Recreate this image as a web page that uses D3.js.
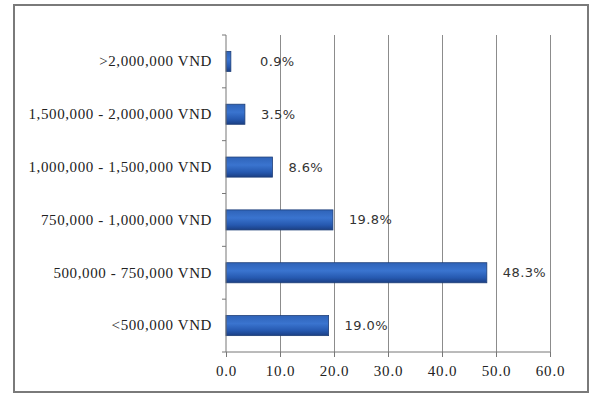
<!DOCTYPE html>
<html>
<head>
<meta charset="utf-8">
<script src="https://cdn.jsdelivr.net/npm/d3@7"></script>
<style>
  body { margin: 0; background: #fff; }
  .cat { font-family: "Liberation Serif", serif; font-size: 15px; letter-spacing: 0.6px; fill: #222; }
  .tick-x { font-family: "Liberation Serif", serif; font-size: 15px; letter-spacing: 0.8px; fill: #222; }
  .val { font-family: "DejaVu Sans", sans-serif; font-size: 13px; letter-spacing: 0.4px; fill: #333; }
</style>
</head>
<body>
<svg id="chart" width="591" height="396"></svg>
<script>
const categories = [">2,000,000 VND", "1,500,000 - 2,000,000 VND", "1,000,000 - 1,500,000 VND",
  "750,000 - 1,000,000 VND", "500,000 - 750,000 VND", "<500,000 VND"];
const values = [0.9, 3.5, 8.6, 19.8, 48.3, 19.0];
const ticks = [0, 10, 20, 30, 40, 50, 60];

const svg = d3.select("#chart");
const M = {left:226, right:550, top:35, bottom:352};

// frame
svg.append("rect").attr("x", 14).attr("y", 5).attr("width", 574).attr("height", 387)
  .attr("fill", "#fff").attr("stroke", "#7a7a7a").attr("stroke-width", 2);

const x = d3.scaleLinear().domain([0, 60]).range([M.left, M.right]);
const y = d3.scaleBand().domain(categories).range([M.top, M.bottom]).paddingInner(0.62).paddingOuter(0.31);

const defs = svg.append("defs");
const grad = defs.append("linearGradient").attr("id", "barGrad").attr("x1", 0).attr("x2", 0).attr("y1", 0).attr("y2", 1);
grad.append("stop").attr("offset", "0%").attr("stop-color", "#2f63b8");
grad.append("stop").attr("offset", "40%").attr("stop-color", "#3a74cf");
grad.append("stop").attr("offset", "75%").attr("stop-color", "#2659b0");
grad.append("stop").attr("offset", "100%").attr("stop-color", "#1b3f84");

// gridlines
svg.append("g").selectAll("line").data(ticks.slice(1)).join("line")
  .attr("x1", d => x(d)).attr("x2", d => x(d)).attr("y1", M.top).attr("y2", M.bottom)
  .attr("stroke", "#8c8c8c").attr("stroke-width", 1).attr("shape-rendering", "crispEdges");

// bars
svg.append("g").selectAll("rect").data(values).join("rect")
  .attr("x", x(0)).attr("y", (d, i) => y(categories[i]))
  .attr("width", d => x(d) - x(0)).attr("height", y.bandwidth())
  .attr("fill", "url(#barGrad)").attr("stroke", "#1d3e78").attr("stroke-width", 0.8);

// value labels
svg.append("g").selectAll("text").data(values).join("text").attr("class", "val")
  .attr("x", d => Math.max(x(d) + 16, x(0) + 34)).attr("y", (d, i) => y(categories[i]) + y.bandwidth() / 2).attr("dy", "0.35em")
  .text(d => d.toFixed(1) + "%");

// y axis
const yAxis = d3.axisLeft(y).tickSize(0).tickPadding(14);
const gy = svg.append("g").attr("transform", `translate(${M.left},0)`).call(yAxis);
gy.select(".domain").attr("stroke", "#777").attr("d", `M0,${M.top}V${M.bottom}`);
gy.selectAll("text").attr("class", "cat").attr("font-family", null).attr("font-size", null);
const bounds = d3.range(categories.length + 1).map(i => M.top + i * y.step());
gy.selectAll("line.minor").data(bounds).join("line").attr("class", "minor")
  .attr("x1", -4).attr("x2", 0).attr("y1", d => d).attr("y2", d => d).attr("stroke", "#777");

// x axis
const xAxis = d3.axisBottom(x).tickValues(ticks).tickFormat(d3.format(".1f")).tickSize(5).tickPadding(8);
const gx = svg.append("g").attr("transform", `translate(0,${M.bottom})`).call(xAxis);
gx.select(".domain").attr("stroke", "#777").attr("d", `M${M.left},0H${M.right}`);
gx.selectAll(".tick line").attr("stroke", "#777");
gx.selectAll("text").attr("class", "tick-x").attr("font-family", null).attr("font-size", null);
</script>
</body>
</html>
